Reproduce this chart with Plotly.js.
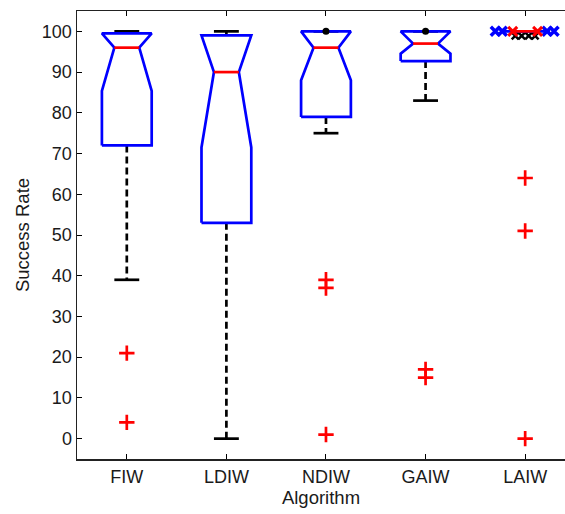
<!DOCTYPE html>
<html>
<head>
<meta charset="utf-8">
<script src="https://cdn.plot.ly/plotly-3.0.1.min.js"></script>
<style>
html,body{margin:0;padding:0;background:#fff;overflow:hidden;}
#chart{width:565px;height:514px;}
</style>
</head>
<body>
<div id="chart"></div>
<script>
// ---- data ----
const categories   = ['FIW', 'LDIW', 'NDIW', 'GAIW', 'LAIW'];
const upperWhisker = [100, 100, 100, 100, 100];
const q3           = [99.5, 99, 100, 100, 100];
const notchHigh    = [99.5, 99, 100, 100, 100];
const median       = [96, 90, 96, 97, 100];
const notchLow     = [85.4, 71.5, 88, 94.5, 100];
const q1           = [72, 53, 79, 92.7, 100];
const lowerWhisker = [39, 0, 75, 83, 100];
const outliers     = [[21, 4], [], [39, 37, 1], [17, 15], [64, 51, 0]];
const yTicks       = [0, 10, 20, 30, 40, 50, 60, 70, 80, 90, 100];

// ---- geometry / style ----
const W = 0.25, WN = 0.125;
const BLUE = '#0000FF', RED = '#FF0000', BLACK = '#000000';
const LW = 2.7;

const whX = [], whY = [], capX = [], capY = [], boxX = [], boxY = [];
const medX = [], medY = [], dotX = [], dotY = [], outX = [], outY = [];
const degenerate = [];

categories.forEach((cat, i) => {
  const c = i + 1;
  if (lowerWhisker[i] < q1[i]) { whX.push(c, c, null); whY.push(q1[i], lowerWhisker[i], null); }
  if (upperWhisker[i] > q3[i]) { whX.push(c, c, null); whY.push(q3[i], upperWhisker[i], null); }
  capX.push(c - WN, c + WN, null); capY.push(lowerWhisker[i], lowerWhisker[i], null);
  capX.push(c - WN, c + WN, null); capY.push(upperWhisker[i], upperWhisker[i], null);
  boxX.push(c - W, c - W, c - WN, c - W, c + W, c + WN, c + W, c + W, c - W, null);
  boxY.push(q1[i], notchLow[i], median[i], notchHigh[i], notchHigh[i], median[i], notchLow[i], q1[i], q1[i], null);
  medX.push(c - WN, c + WN, null); medY.push(median[i], median[i], null);
  if (upperWhisker[i] === q3[i] && q1[i] !== q3[i]) { dotX.push(c); dotY.push(upperWhisker[i]); }
  if (q1[i] === q3[i]) degenerate.push(i);
  outliers[i].forEach(v => { outX.push(c); outY.push(v); });
});

const traces = [
  {x: whX, y: whY, mode: 'lines', line: {color: BLACK, width: LW, dash: '7px,4px'}, hoverinfo: 'skip'},
  {x: capX, y: capY, mode: 'lines', line: {color: BLACK, width: LW}, hoverinfo: 'skip'},
];

degenerate.forEach(i => {
  const c = i + 1, v = q3[i];
  traces.push({x: [c - 0.1, c - 0.035, c + 0.035, c + 0.1], y: [v - 1.1, v - 1.1, v - 1.1, v - 1.1],
    mode: 'markers', marker: {symbol: 'x-thin', size: 7, line: {color: BLACK, width: 2.5}}, hoverinfo: 'skip'});
  traces.push({x: [c - 0.3, c - 0.23, c + 0.22, c + 0.29], y: [v, v, v, v],
    mode: 'markers', marker: {symbol: 'x-thin', size: 9, line: {color: BLUE, width: 3.5}}, hoverinfo: 'skip'});
});

traces.push(
  {x: boxX, y: boxY, mode: 'lines', line: {color: BLUE, width: LW}, hoverinfo: 'skip'},
  {x: medX, y: medY, mode: 'lines', line: {color: RED, width: LW}, hoverinfo: 'skip'}
);
degenerate.forEach(i => {
  const c = i + 1, v = q3[i];
  traces.push({x: [c - WN, c + WN], y: [v, v], mode: 'markers',
    marker: {symbol: 'x-thin', size: 9, line: {color: RED, width: 3}}, hoverinfo: 'skip'});
});
traces.push(
  {x: dotX, y: dotY, mode: 'markers', marker: {symbol: 'circle', size: 7, color: BLACK}, hoverinfo: 'skip'},
  {x: outX, y: outY, mode: 'markers', marker: {symbol: 'cross-thin', size: 11, line: {color: RED, width: 2.7}}, hoverinfo: 'skip'}
);

const font = {family: '"Liberation Sans", Arial, sans-serif', size: 18, color: '#1a1a1a'};
const tfont = {family: '"Liberation Sans", Arial, sans-serif', size: 18.5, color: '#1a1a1a'};
const layout = {
  width: 565, height: 514,
  margin: {l: 77, r: 0, t: 11, b: 55},
  paper_bgcolor: '#fff', plot_bgcolor: '#fff',
  showlegend: false,
  font: font,
  xaxis: {
    range: [0.5, 5.4], tickmode: 'array', tickvals: categories.map((c, i) => i + 1), ticktext: categories,
    ticks: 'inside', ticklen: 5, tickcolor: BLACK, tickwidth: 1,
    showline: true, linecolor: '#222', linewidth: 1.5, mirror: 'ticks',
    showgrid: false, zeroline: false, tickfont: font, ticklabelstandoff: 1,
    title: {text: 'Algorithm', font: tfont, standoff: 5}, automargin: false
  },
  yaxis: {
    range: [-5, 105], tickmode: 'array', tickvals: yTicks, ticktext: yTicks.map(String),
    ticks: 'inside', ticklen: 5, tickcolor: BLACK, tickwidth: 1,
    showline: true, linecolor: '#222', linewidth: 1.5,
    showgrid: false, zeroline: false, tickfont: font,
    title: {text: 'Success Rate', font: tfont, standoff: 7}, automargin: false
  }
};

Plotly.newPlot('chart', traces, layout, {displayModeBar: false, staticPlot: true});
</script>
</body>
</html>
